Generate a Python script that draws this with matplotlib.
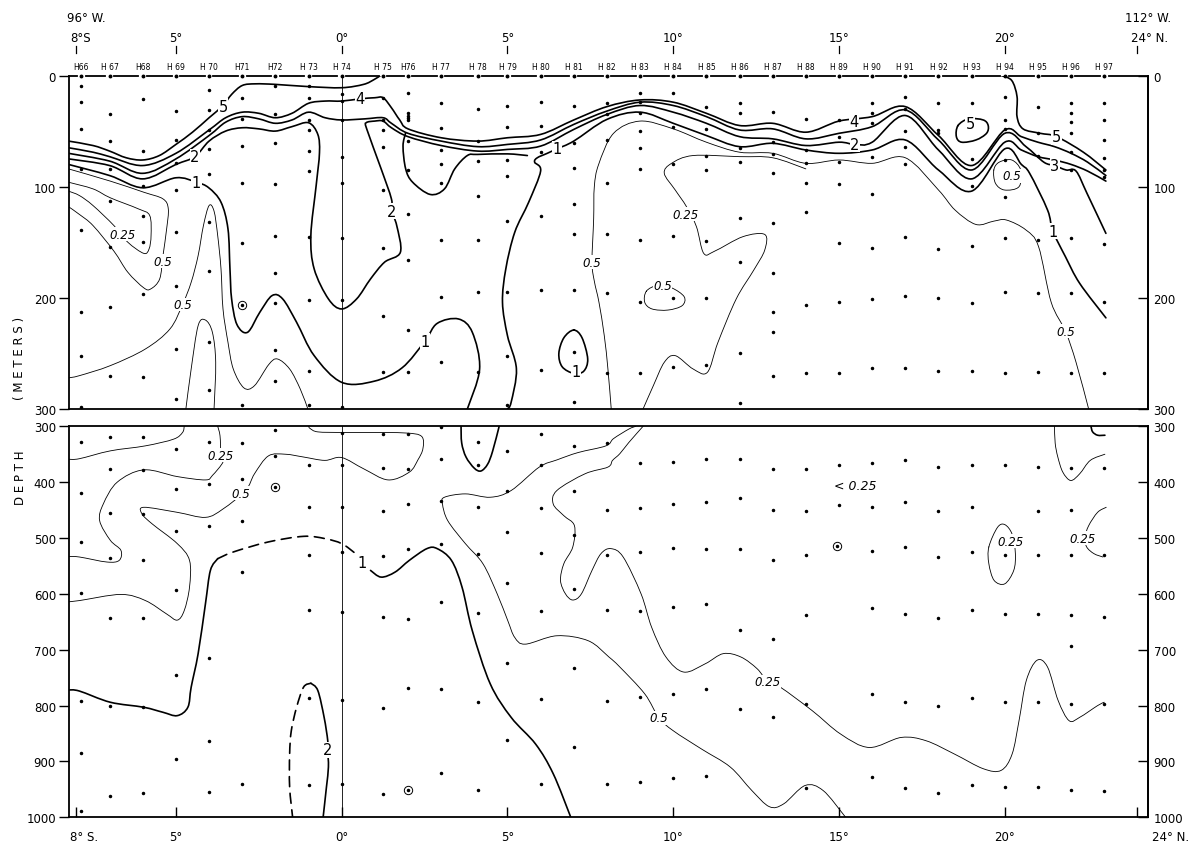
import numpy as np
import matplotlib.pyplot as plt
from matplotlib.path import Path
from matplotlib.patches import PathPatch

# stations along the section (name, latitude)
stations = ["H66", "H 67", "H68", "H 69", "H 70", "H71", "H72", "H 73", "H 74", "H 75",
            "H76", "H 77", "H 78", "H 79", "H 80", "H 81", "H 82", "H 83", "H 84", "H 85",
            "H 86", "H 87", "H 88", "H 89", "H 90", "H 91", "H 92", "H 93", "H 94", "H 95",
            "H 96", "H 97"]
station_lat = [-7.85, -7, -6, -5, -4, -3, -2, -1, 0, 1.25, 2, 3, 4.1, 5, 6, 7, 8, 9, 10, 11,
               12, 13, 14, 15, 16, 17, 18, 19, 20, 21, 22, 23]

# sample depths per station, upper section (0-300 m)
top_depths = [
    [9, 24, 48, 84, 139, 213, 252, 298], [35, 59, 84, 113, 154, 208, 270],
    [21, 68, 99, 126, 150, 197, 271], [32, 58, 79, 103, 141, 189, 246, 291],
    [13, 31, 49, 66, 89, 132, 176, 240, 283], [20, 39, 63, 97, 151, 296],
    [9, 35, 61, 98, 144, 178, 205, 247, 275], [9, 20, 40, 49, 68, 86, 145, 202, 266, 296],
    [17, 23, 40, 73, 97, 146, 202, 298], [20, 40, 49, 64, 103, 155, 216, 267],
    [16, 34, 36, 38, 40, 59, 85, 125, 166, 229, 267], [25, 47, 67, 80, 97, 148, 199, 258],
    [30, 59, 77, 108, 148, 195, 267], [27, 46, 76, 90, 131, 195, 252, 296],
    [24, 45, 69, 126, 193, 265], [27, 61, 83, 116, 143, 193, 249, 294],
    [25, 35, 58, 97, 143, 196, 268], [16, 24, 34, 50, 65, 84, 148, 204, 268],
    [16, 46, 80, 144, 200, 262], [28, 48, 72, 85, 149, 200, 260],
    [25, 34, 65, 78, 128, 168, 250, 295], [33, 60, 71, 88, 133, 178, 213, 231, 270],
    [39, 67, 79, 97, 123, 206, 268], [40, 55, 78, 98, 151, 204, 268],
    [25, 34, 43, 73, 107, 155, 201, 263], [19, 30, 50, 64, 80, 145, 198, 263],
    [25, 49, 52, 156, 200, 266], [25, 40, 75, 99, 153, 205, 266],
    [19, 40, 48, 76, 109, 146, 195, 268], [28, 52, 72, 148, 196, 267],
    [25, 34, 42, 52, 69, 85, 146, 196, 268], [25, 40, 58, 74, 85, 91, 152, 204, 268]]

# sample depths per station, lower section (300-1000 m)
bottom_depths = [
    [329, 420, 507, 599, 791, 885, 989], [319, 376, 456, 536, 644, 801, 961],
    [319, 379, 457, 540, 644, 803, 957], [341, 412, 488, 593, 745, 896],
    [329, 404, 478, 715, 863, 955], [330, 395, 470, 560, 940],
    [306, 354], [370, 445, 530, 629, 787, 942],
    [312, 370, 445, 525, 632, 790, 940], [314, 374, 452, 533, 642, 804, 959],
    [314, 376, 439, 519, 645, 769], [302, 358, 433, 510, 614, 770, 921],
    [329, 370, 444, 528, 635, 794, 952], [344, 415, 490, 581, 724, 861],
    [314, 370, 446, 527, 631, 788, 940], [335, 415, 494, 591, 733, 875],
    [330, 450, 531, 629, 791, 941], [366, 446, 525, 630, 785, 937],
    [364, 439, 518, 624, 779, 930], [358, 436, 519, 618, 771, 926],
    [358, 429, 519, 664, 806], [376, 450, 540, 681, 821],
    [376, 452, 531, 637, 797, 948], [370, 441],
    [366, 444, 524, 626, 780, 927], [360, 436, 516, 636, 794, 948],
    [373, 452, 534, 644, 801, 956], [370, 444, 525, 629, 786, 942],
    [370, 530, 636, 794, 945], [372, 452, 531, 636, 794, 945],
    [374, 450, 531, 638, 693, 798, 952], [374, 531, 641, 797, 953]]

circled_top = [(-3, 206)]
circled_bottom = [(-2, 409), (2, 952), (14.95, 514)]

# ---- contour lines (lat, depth) ----
top_5a = [(-8.24, 59), (-7.5, 63), (-7, 68), (-6.5, 74), (-6, 76), (-5.5, 72), (-5, 62), (-4.5, 51),
          (-4.0, 38), (-3.58, 27), (-3.32, 17), (-3.0, 9), (-2.6, 7.5), (-2.0, 8), (-1.0, 10),
          (0, 11), (0.66, 8), (0.98, 3.6), (1.17, 0)]
top_5b = [(19.89, 0), (20.21, 4.5), (20.37, 19), (20.37, 37), (20.55, 48), (21.07, 52),
          (21.56, 55), (22.37, 69), (23.05, 85)]
top_5_loop = [(18.59, 45), (18.91, 39), (19.35, 40), (19.5, 45), (19.45, 52), (19.13, 58),
              (18.7, 60), (18.54, 55), (18.59, 45)]
top_4 = [(-8.24, 65), (-7.5, 69), (-7, 73), (-6, 81), (-5, 70), (-4, 49), (-3.5, 38), (-3, 33),
         (-2.5, 34), (-2, 38), (-1.5, 34), (-1, 25), (-0.5, 23), (0, 23), (0.55, 21), (1.0, 20),
         (1.25, 20), (1.5, 29), (1.75, 40), (2, 48), (3, 56), (4.1, 59), (5, 56), (6, 53),
         (7, 40), (8, 28), (9, 22), (10, 24), (11, 34), (12, 45), (13, 43), (14, 51), (15, 41),
         (16, 37), (17, 28), (18, 54), (19, 81), (20, 49), (20.5, 55), (21, 60), (21.5, 64),
         (22, 70), (22.5, 78), (23.05, 90)]
top_3 = [(-8.24, 70), (-7, 77), (-6, 88), (-5, 75), (-4, 54), (-3.5, 42), (-3, 37), (-2.5, 39),
         (-2, 43), (-1.5, 40), (-1, 33), (-0.5, 38), (0, 40), (0.7, 39), (1.25, 38), (1.5, 43),
         (2, 52), (3, 59), (4.1, 64), (5, 62), (6, 58), (7, 44), (8, 32), (9, 24), (10, 27),
         (11, 37), (12, 49), (13, 48), (14, 57), (15, 52), (16, 46), (17, 31), (18, 58),
         (19, 85), (20, 52), (20.64, 64), (21.18, 78), (21.5, 81), (21.85, 85), (22.15, 86),
         (22.48, 106), (23.05, 142)]
top_2 = [(-8.24, 75), (-7, 81), (-6, 93), (-5, 80), (-4.43, 73), (-4, 59), (-3.5, 50), (-3, 47),
         (-2.5, 48), (-2, 50), (-1.5, 46), (-1.0, 42.5), (-0.72, 53), (-0.67, 69.5),
         (-0.77, 99), (-0.93, 144), (-0.83, 174), (-0.4, 201), (0, 210), (0.45, 201),
         (0.87, 183), (1.29, 168), (1.77, 159), (1.66, 135), (1.51, 122), (1.5, 111),
         (1.19, 84), (0.76, 48.5), (0.74, 42.5), (1.0, 41), (1.25, 41), (1.5, 47), (2, 55),
         (3, 63), (4.1, 68), (5, 66.5), (6, 63.5), (7, 48.5), (8, 35), (9, 27), (10, 33),
         (11, 43), (12, 55), (13, 57), (14, 63), (15, 60), (15.48, 62), (16, 60), (17, 36),
         (18, 67), (19, 93), (20, 60), (20.5, 67), (21, 73), (21.5, 76), (22, 80),
         (22.5, 86), (23.05, 95)]
top_1a = [(-8.24, 80), (-7, 90), (-6, 101), (-5, 92), (-4.38, 96), (-4.01, 101), (-3.64, 114),
          (-3.43, 138), (-3.37, 174), (-3.32, 201), (-3.16, 224), (-2.84, 231), (-2.47, 213),
          (-2.10, 198), (-1.78, 201), (-1.36, 222), (-0.83, 252), (0, 276), (0.98, 275),
          (1.82, 263), (2.51, 239), (2.88, 223), (3.52, 219), (3.94, 231), (4.16, 264),
          (3.79, 300)]
top_1b = [(1.93, 51.5), (1.85, 63.5), (1.93, 84), (2.14, 96), (2.67, 107), (3.1, 102),
          (3.41, 84), (3.79, 72), (4.1, 71), (5.0, 70.5), (5.6, 72)]
top_1c = [(5.0, 300), (5.11, 294), (5.27, 264), (5.0, 234), (4.85, 204), (4.95, 174),
          (5.22, 141), (5.64, 114), (6.0, 86), (5.82, 78), (5.9, 74), (6.2, 70), (6.49, 66),
          (7, 59), (8, 39.5), (9, 33), (10, 43), (11, 54), (12, 64), (13, 61), (14, 67),
          (15, 70), (16, 67), (17, 58), (18, 85), (19, 104), (20, 66), (20.5, 80),
          (20.75, 88), (21.29, 121), (21.45, 140), (21.83, 163), (22.26, 187), (23.05, 218)]
top_1_loop = [(7.0, 229), (7.25, 236), (7.42, 255), (7.3, 266), (7.0, 268), (6.65, 262),
              (6.55, 250), (6.7, 236), (7.0, 229)]
top_05 = [(8.13, 300), (8.03, 264), (7.92, 234), (7.76, 204), (7.62, 185), (7.55, 168),
          (7.6, 129), (7.62, 100), (7.75, 80), (8.2, 52), (9, 41), (10, 48), (11, 60),
          (12, 69), (13, 70), (14, 79), (15, 76), (16, 79), (17, 74), (18, 103), (18.5, 121),
          (19.13, 134), (19.67, 131), (20.05, 130), (20.64, 139), (21.02, 154), (21.4, 204),
          (21.83, 230), (22.15, 258), (22.53, 300)]
top_05_loop = [(9.19, 194), (9.52, 189), (9.95, 191), (10.33, 199), (10.27, 207), (9.84, 211),
               (9.36, 210), (9.14, 204), (9.19, 194)]
top_05_loop2 = [(19.67, 85), (19.72, 97), (19.99, 103), (20.43, 100), (20.48, 85),
                (20.21, 76), (19.83, 78), (19.67, 85)]
top_025 = [(14.0, 84), (13, 74), (12, 73), (10.6, 72), (9.95, 79), (9.73, 88), (10.06, 103),
           (10.4, 118), (10.7, 136), (10.92, 160), (11.25, 158), (12.1, 145), (12.76, 143),
           (12.76, 157), (12.43, 175), (11.9, 201), (11.35, 240), (11.03, 267), (10.6, 264),
           (10.06, 252), (9.73, 258), (9.4, 279), (9.09, 300)]
top_025_left = [(-8.24, 96), (-7.5, 102), (-6.98, 110), (-6.13, 120), (-5.79, 126),
                (-5.75, 144), (-5.81, 156), (-5.97, 160), (-6.45, 150), (-6.87, 135),
                (-7.5, 117), (-7.91, 108), (-8.24, 104)]
top_05_left = [(-8.24, 84), (-6.98, 95), (-5.97, 105), (-5.39, 111), (-5.23, 120),
               (-5.28, 138), (-5.39, 162), (-5.49, 183), (-5.76, 192), (-5.97, 191),
               (-6.45, 177), (-6.87, 158), (-7.5, 135), (-7.91, 125), (-8.24, 118)]
top_05_long = [(-8.24, 272), (-7.91, 270), (-6.98, 261), (-5.92, 246), (-5.18, 228),
               (-4.8, 206), (-4.54, 186), (-4.33, 162), (-4.17, 135), (-4.0, 117),
               (-3.85, 122), (-3.74, 144), (-3.64, 174), (-3.58, 210), (-3.43, 240),
               (-3.27, 264), (-2.95, 281), (-2.63, 279), (-2.2, 260), (-1.94, 255),
               (-1.57, 264), (-1.25, 282), (-1.02, 300)]
top_05_arch = [(-4.7, 300), (-4.54, 264), (-4.33, 225), (-4.11, 220), (-3.9, 231),
               (-3.8, 258), (-3.85, 300)]

bot_a = [(-8.24, 359), (-7.91, 358), (-6.98, 344), (-5.92, 335), (-5.07, 323), (-4.8, 311),
         (-4.75, 300)]
bot_025_left = [(-3.74, 300), (-3.67, 317), (-3.64, 352), (-3.58, 364), (-3.9, 388),
                (-4.11, 396), (-4.96, 390), (-5.97, 378), (-6.77, 400), (-7.19, 439),
                (-7.3, 469), (-6.98, 504), (-6.66, 522), (-6.71, 540), (-7.08, 543),
                (-7.91, 534), (-8.24, 533)]
bot_05_left = [(-8.24, 614), (-7.91, 612), (-6.66, 601), (-5.92, 612), (-5.28, 636),
               (-4.96, 647), (-4.75, 630), (-4.59, 588), (-4.59, 540), (-4.96, 510),
               (-5.71, 475), (-6.02, 457), (-5.97, 445), (-4.96, 454), (-4.11, 463),
               (-3.58, 448), (-2.9, 415), (-2.63, 385), (-2.21, 353), (-1.7, 350),
               (-1.15, 355), (-0.51, 361), (0, 356), (0.66, 376), (1.4, 396), (2.04, 382),
               (2.3, 360), (2.45, 340), (2.41, 318), (1.93, 312), (0.76, 311), (0, 311),
               (-0.72, 310), (-0.95, 304), (-1.0, 300)]
bot_1_left = [(-8.24, 772), (-7.91, 774), (-6.98, 794), (-5.97, 803), (-5.39, 812),
              (-4.96, 818), (-4.64, 803), (-4.54, 767), (-4.33, 707), (-4.11, 618),
              (-3.96, 558), (-3.74, 537)]
bot_1_dash = [(-3.74, 537), (-3.27, 525), (-2.21, 507), (-1.15, 497), (-0.51, 501),
              (0, 510), (0.4, 527)]
bot_1_right = [(0.87, 558), (1.19, 570), (1.61, 561), (2.04, 540), (2.57, 519), (2.88, 519),
               (3.31, 540), (3.63, 588), (3.94, 666), (4.48, 761), (5.11, 821), (5.85, 869),
               (6.38, 922), (6.91, 1000)]
bot_2_dash = [(-0.93, 760), (-1.15, 767), (-1.36, 803), (-1.52, 845), (-1.57, 887),
              (-1.57, 946), (-1.48, 1000)]
bot_2_solid = [(-0.93, 760), (-0.72, 773), (-0.53, 821), (-0.42, 863), (-0.42, 881),
               (-0.4, 910), (-0.46, 946), (-0.56, 1000)]
bot_u = [(3.6, 300), (3.62, 330), (3.75, 355), (4.0, 375), (4.2, 380), (4.4, 368),
         (4.55, 345), (4.75, 300)]
bot_05_long = [(8.87, 300), (8.66, 305), (8.2, 322), (7.97, 335), (7.13, 347), (6.5, 360),
               (5.96, 373), (5.11, 415), (4.48, 427), (3.73, 421),
               (3.1, 427), (3.04, 439), (3.2, 469), (3.73, 510), (4.26, 546), (4.69, 600),
               (5.01, 648), (5.22, 678), (5.54, 690), (6.49, 675), (7.44, 684), (8.06, 713),
               (8.39, 731), (9.14, 779), (9.57, 822), (10, 845), (10.86, 878), (11.72, 910),
               (12.37, 952), (12.9, 981), (13.33, 976), (13.98, 943), (14.52, 952),
               (15.16, 997), (15.2, 1000)]
bot_025_long = [(9.09, 300), (8.66, 329), (8.39, 349), (8.17, 361), (8.03, 373), (7.34, 385),
                (6.49, 415), (6.38, 439), (6.7, 460), (7.02, 478), (6.97, 516), (6.7, 546),
                (6.6, 576), (6.75, 600), (6.97, 611), (7.23, 600), (7.55, 558), (7.82, 528),
                (8.12, 519), (8.49, 534), (9.03, 600), (9.35, 660), (9.78, 713), (10.32, 740),
                (10.97, 725), (11.51, 707), (12.04, 713), (12.53, 734), (12.85, 757),
                (13.23, 767), (14.19, 809), (15.05, 851), (15.91, 875), (16.88, 857),
                (17.63, 863), (18.49, 887), (19.35, 913), (19.89, 916), (20.22, 887),
                (20.43, 827), (20.65, 755), (20.97, 719), (21.29, 731), (21.61, 791),
                (21.94, 827), (22.26, 821), (22.8, 800), (23.0, 794)]
bot_025_loop = [(19.52, 516), (19.78, 481), (20.0, 476), (20.22, 493), (20.32, 528),
                (20.27, 558), (20.0, 582), (19.68, 576), (19.52, 546), (19.52, 516)]
bot_025_arc = [(23.06, 445), (22.8, 454), (22.53, 478), (22.42, 499), (22.47, 516),
               (22.69, 528), (22.96, 534)]
bot_u2 = [(21.5, 300), (21.52, 330), (21.6, 355), (21.75, 382), (21.99, 397), (22.26, 385),
          (22.58, 361), (23.02, 350)]
bot_hook = [(22.6, 300), (22.65, 310), (22.8, 316), (23.02, 316)]

top_thick = [top_5a, top_5b, top_5_loop, top_4, top_3, top_2, top_1a, top_1b, top_1c, top_1_loop]
top_thin = [top_05, top_05_loop, top_05_loop2, top_025, top_025_left, top_05_left,
            top_05_long, top_05_arch]
bot_thick = [bot_1_left, bot_1_right, bot_2_solid, bot_u, bot_hook]
bot_dashed = [bot_1_dash, bot_2_dash]
bot_thin = [bot_a, bot_025_left, bot_05_left, bot_05_long, bot_025_long, bot_025_loop,
            bot_025_arc, bot_u2]

top_labels = [("5", -3.58, 27.5), ("4", 0.55, 21), ("2", -4.43, 73), ("1", -4.38, 96),
              ("2", 1.51, 122), ("1", 2.51, 239), ("1", 6.49, 66), ("1", 7.07, 266),
              ("0.25", -6.6, 143), ("0.5", -5.39, 167), ("0.5", -4.8, 206), ("0.5", 7.55, 168),
              ("4", 15.44, 41), ("2", 15.48, 62), ("0.25", 10.36, 125), ("0.5", 9.68, 189),
              ("5", 18.95, 43), ("5", 21.56, 55), ("3", 21.5, 81), ("0.5", 20.21, 90),
              ("1", 21.45, 140), ("0.5", 21.83, 230)]
bot_labels = [("0.25", -3.64, 352), ("0.5", -3.05, 420), ("1", 0.62, 543), ("2", -0.42, 879),
              ("0.25", 20.16, 506), ("0.25", 22.35, 500), ("0.25", 12.85, 757),
              ("0.5", 9.57, 822)]

lat_ticks = [-8, -5, 0, 5, 10, 15, 20, 24]
lat_top_text = ["8°S", "5°", "0°", "5°", "10°", "15°", "20°", "24° N."]
lat_bot_text = ["8° S.", "5°", "0°", "5°", "10°", "15°", "20°", "24° N."]

W, H = 1193, 845
XL, XR = -8.24, 24.32


def smooth(pts):
    p = np.asarray(pts, float)
    closed = np.allclose(p[0], p[-1])
    if closed:
        prev = np.vstack([p[-2], p[:-1]])
        nxt = np.vstack([p[1:], p[1]])
    else:
        prev = np.vstack([p[0], p[:-1]])
        nxt = np.vstack([p[1:], p[-1]])
    tan = (nxt - prev) / 6.0
    verts = [p[0]]
    codes = [Path.MOVETO]
    for i in range(len(p) - 1):
        verts += [p[i] + tan[i], p[i + 1] - tan[i + 1], p[i + 1]]
        codes += [Path.CURVE4] * 3
    return Path(verts, codes)


def draw(ax, pts, lw, ls="-"):
    ax.add_patch(PathPatch(smooth(pts), fill=False, lw=lw, ls=ls, color="black",
                           capstyle="round", zorder=3))


def label(ax, s, x, y):
    if "." in s:
        ax.text(x, y, s, fontsize=8.5, style="italic", ha="center", va="center", zorder=5,
                bbox=dict(fc="white", ec="none", pad=0.3))
    else:
        ax.text(x, y, s, fontsize=10.5, ha="center", va="center", zorder=5,
                bbox=dict(fc="white", ec="none", pad=0.3))


fig = plt.figure(figsize=(W / 100, H / 100), dpi=100)
ax_t = fig.add_axes([68.5 / W, 1 - 410 / H, (1148 - 68.5) / W, (410 - 76.5) / H])
ax_b = fig.add_axes([68.5 / W, 1 - 818.3 / H, (1148 - 68.5) / W, (818.3 - 427.3) / H])

for ax, yl, yt in [(ax_t, (300, 0), [0, 100, 200, 300]),
                   (ax_b, (1000, 300), [300, 400, 500, 600, 700, 800, 900, 1000])]:
    ax.set_xlim(XL, XR)
    ax.set_ylim(*yl)
    ax.set_yticks(yt)
    ax.tick_params(axis="y", direction="out", length=7, width=1.0, labelsize=8.5, pad=2)
    for sp in ax.spines.values():
        sp.set_linewidth(1.3)
    sec = ax.secondary_yaxis("right")
    sec.set_yticks(yt)
    sec.tick_params(direction="in", length=7, width=1.0, labelsize=8.5, pad=4)
    sec.spines["right"].set_linewidth(1.3)
    ax.axvline(0, color="black", lw=0.6, zorder=1)

ax_t.set_xticks([])
ax_b.set_xticks(lat_ticks)
ax_b.set_xticklabels([])
ax_b.tick_params(axis="x", direction="in", length=7, width=1.0)

# dash-dot top frame with station marks
ax_t.spines["top"].set_visible(False)
g = 0.13
ax_t.plot([XL, station_lat[0] - g], [0, 0], color="black", lw=1.3, clip_on=False)
for a, b in zip(station_lat[:-1], station_lat[1:]):
    ax_t.plot([a + g, b - g], [0, 0], color="black", lw=1.3, clip_on=False)
ax_t.plot([station_lat[-1] + g, XR], [0, 0], color="black", lw=1.3, clip_on=False)
ax_t.plot(station_lat, [0] * len(station_lat), "o", color="black", ms=1.8, clip_on=False)

# station names, latitude ticks and labels above the section
tr = ax_t.get_xaxis_transform()
yax = lambda ypx: (410 - ypx) / (410 - 76.5)
for name, lat in zip(stations, station_lat):
    ax_t.text(lat, yax(67), name, transform=tr, fontsize=5.5, ha="center", va="center")
for lat, s in zip(lat_ticks, lat_top_text):
    ax_t.plot([lat, lat], [yax(54), yax(47)], transform=tr, color="black", lw=0.9,
              clip_on=False)
    ha = "left" if lat in (-8, 24) else "center"
    ax_t.text(lat - (0.2 if ha == "left" else 0), yax(38), s, transform=tr, fontsize=8.5,
              ha=ha, va="center")
fig.text(67 / W, 1 - 18 / H, "96° W.", fontsize=8.5, ha="left", va="center")
fig.text(1125 / W, 1 - 18 / H, "112° W.", fontsize=8.5, ha="left", va="center")

trb = ax_b.get_xaxis_transform()
for lat, s in zip(lat_ticks, lat_bot_text):
    ha = "left" if lat in (-8, 24) else "center"
    off = {-8: -0.2, 24: 0.45}.get(lat, 0)
    ax_b.text(lat + off, -0.05, s, transform=trb, fontsize=8.5, ha=ha, va="center")

fig.text(20 / W, 1 - 478 / H, "D E P T H", rotation=90, fontsize=8.5, ha="center",
         va="center")
fig.text(20 / W, 1 - 358 / H, "( M E T E R S )", rotation=90, fontsize=8.5, ha="center",
         va="center")

# sample points
for lat, dl in zip(station_lat, top_depths):
    ax_t.plot([lat] * len(dl), dl, "o", color="black", ms=1.5, zorder=4)
for lat, dl in zip(station_lat, bottom_depths):
    ax_b.plot([lat] * len(dl), dl, "o", color="black", ms=1.5, zorder=4)
for ax, pts in [(ax_t, circled_top), (ax_b, circled_bottom)]:
    for x, y in pts:
        ax.plot(x, y, "o", ms=6, mfc="none", mec="black", mew=0.7, zorder=4)
        ax.plot(x, y, "o", ms=1.5, color="black", zorder=4)

for c in top_thick:
    draw(ax_t, c, 1.2)
for c in top_thin:
    draw(ax_t, c, 0.6)
for c in bot_thick:
    draw(ax_b, c, 1.2)
for c in bot_dashed:
    draw(ax_b, c, 1.2, (0, (6, 4)))
for c in bot_thin:
    draw(ax_b, c, 0.6)

for s, x, y in top_labels:
    label(ax_t, s, x, y)
for s, x, y in bot_labels:
    label(ax_b, s, x, y)
ax_b.text(15.48, 406, "< 0.25", fontsize=9, style="italic", ha="center", va="center")

fig.savefig("out.png", dpi=100, facecolor="white")
